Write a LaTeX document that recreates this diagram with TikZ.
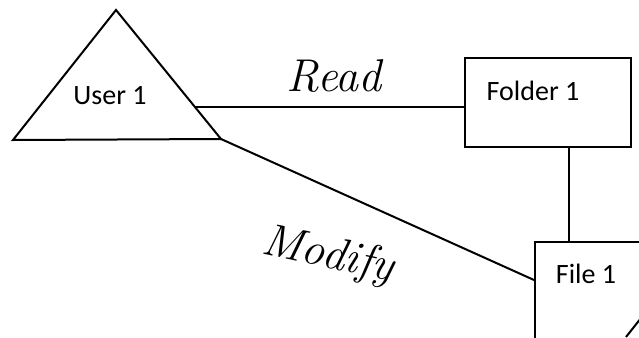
\documentclass[tikz,border=0pt]{standalone}
\usepackage{fontspec}
\newfontfamily\calib{Carlito}
\begin{document}
\begin{tikzpicture}
  [x=1pt,y=-1pt,line width=2pt,
   box/.style={draw,rectangle,inner sep=0pt},
   lbl/.style={font=\calib\fontsize{28}{32}\selectfont,inner sep=0pt},
   hand/.style={font=\itshape\fontsize{46}{50}\selectfont,inner sep=0pt}]
  \useasboundingbox (0,0) rectangle (639,337);
  \clip (0,0) rectangle (639,337);

  % user triangle
  \coordinate (apex) at (116,10);
  \coordinate (lft) at (13,140);
  \coordinate (rgt) at (221,139);
  \draw[line join=miter] (apex) -- (lft) -- (rgt) -- cycle;
  \node (user)[lbl] at (110,96) {User 1};
  \coordinate (readstart) at (195,107);

  % folder and file
  \node (folder)[box,minimum width=166pt,minimum height=89pt] at (548,102.5) {};
  \node (folderlbl)[lbl] at (533,91) {Folder 1};
  \node (file)[box,minimum width=130pt,minimum height=150pt] at (600,317) {};
  \node (filelbl)[lbl] at (586,274) {File 1};
  \draw (626,337) -- (645,313);

  % connectors
  \draw (readstart) -- (readstart -| folder.west);
  \draw ([xshift=21pt]folder.south) -- ([xshift=21pt]folder.south |- file.north);
  \draw (rgt) -- ([yshift=37pt]file.west);

  % access labels
  \node (read)[hand] at (334,76) {Read};
  \node (modify)[hand,rotate=-12] at (328,256) {Modify};
\end{tikzpicture}
\end{document}
